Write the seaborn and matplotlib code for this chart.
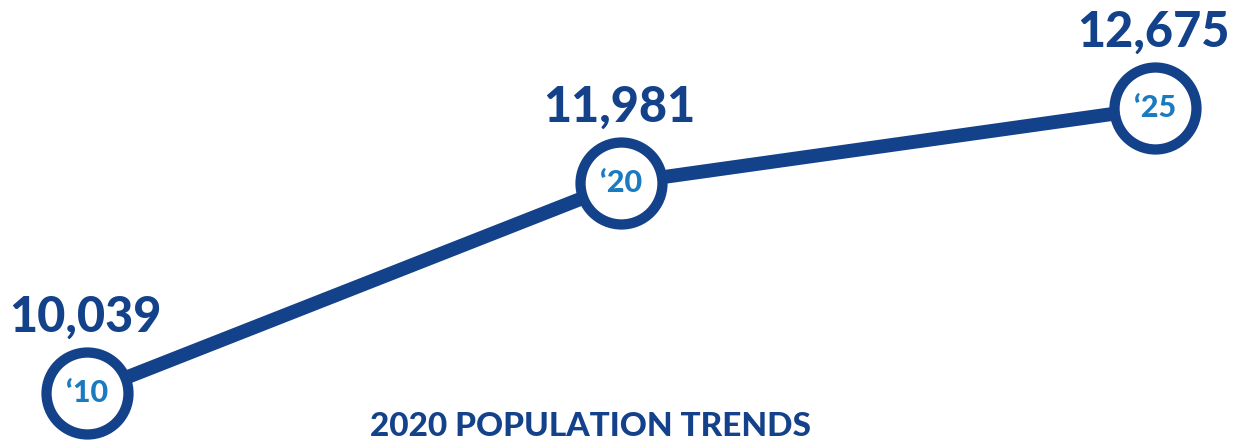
import matplotlib
matplotlib.use("Agg")
import matplotlib.pyplot as plt
import seaborn as sns
import pandas as pd

# ---- data ----
years = ["‘10", "‘20", "‘25"]
population = [10039, 11981, 12675]
value_labels = ["10,039", "11,981", "12,675"]
title = "2020 POPULATION TRENDS"

NAVY = "#13428a"
BLUE = "#1b7bc0"

sns.set_theme(style="white")
plt.rcParams["font.family"] = ["Lato", "DejaVu Sans"]

df = pd.DataFrame({"idx": range(len(years)), "year": years, "pop": population})

fig = plt.figure(figsize=(12.41, 4.42), dpi=100)
ax = fig.add_axes([0, 0, 1, 1])

sns.lineplot(data=df, x="idx", y="pop", ax=ax, color=NAVY, linewidth=10,
             marker="o", markersize=59, markerfacecolor="white",
             markeredgecolor=NAVY, markeredgewidth=7.4, solid_capstyle="butt")

for i, r in df.iterrows():
    ax.text(r["idx"], r["pop"], r["year"], ha="center", va="center",
            color=BLUE, fontsize=22, fontweight="black")
    ax.annotate(value_labels[i], (r["idx"], r["pop"]), xytext=(-1, 44),
                textcoords="offset points", ha="center", va="baseline",
                color=NAVY, fontsize=35, fontweight="black")

# axis limits chosen so the end circles sit where the reference has them
px_per_unit_x = (1155 - 87) / 2
ax.set_xlim(-87 / px_per_unit_x, 2 + (1241 - 1155) / px_per_unit_x)
span = population[-1] - population[0]
py = span / (393 - 108)
ax.set_ylim(population[0] - (442 - 393) * py, population[-1] + 108 * py)
ax.axis("off")

fig.text(0.476, 0.003, title, ha="center", va="bottom", color=NAVY,
         fontsize=24, fontweight="black")

fig.savefig("out.png", dpi=100)
